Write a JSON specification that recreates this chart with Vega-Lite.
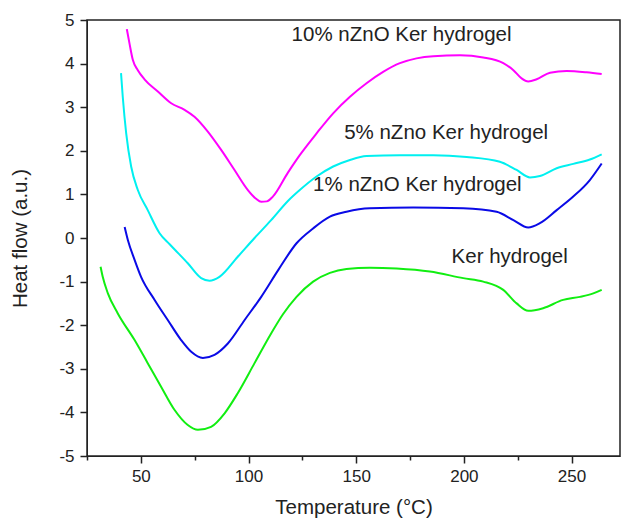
{
  "$schema": "https://vega.github.io/schema/vega-lite/v6.json",
  "width": 533,
  "height": 436,
  "autosize": "none",
  "padding": {"left": 87, "top": 20, "right": 3, "bottom": 64},
  "config": {
    "view": {"stroke": "#222", "strokeWidth": 1.5},
    "font": "Liberation Sans",
    "style": {"guide-label": {"fontSize": 17, "fill": "#222", "font": "Liberation Sans"}, "guide-title": {"fontSize": 20.5, "fill": "#222", "font": "Liberation Sans", "fontWeight": "normal"}},
    "axis": {"grid": false, "domainColor": "#222", "tickColor": "#222", "tickWidth": 1.5}
  },
  "datasets": {
    "curves": [
      {"s": "10%", "T": 43.5, "hf": 4.79}, {"s": "10%", "T": 44.7, "hf": 4.47}, {"s": "10%", "T": 46.3, "hf": 4.08}, {"s": "10%", "T": 48.6, "hf": 3.85}, {"s": "10%", "T": 51.7, "hf": 3.64}, {"s": "10%", "T": 57.9, "hf": 3.36}, {"s": "10%", "T": 64.1, "hf": 3.09}, {"s": "10%", "T": 70.3, "hf": 2.94}, {"s": "10%", "T": 74.9, "hf": 2.78}, {"s": "10%", "T": 81.1, "hf": 2.44}, {"s": "10%", "T": 87.3, "hf": 2.02}, {"s": "10%", "T": 93.5, "hf": 1.56}, {"s": "10%", "T": 99.7, "hf": 1.1}, {"s": "10%", "T": 103.5, "hf": 0.9}, {"s": "10%", "T": 105.9, "hf": 0.83}, {"s": "10%", "T": 108.5, "hf": 0.84}, {"s": "10%", "T": 111.3, "hf": 0.95}, {"s": "10%", "T": 118.3, "hf": 1.5}, {"s": "10%", "T": 123.8, "hf": 1.9}, {"s": "10%", "T": 131.6, "hf": 2.4}, {"s": "10%", "T": 139.3, "hf": 2.86}, {"s": "10%", "T": 147.1, "hf": 3.24}, {"s": "10%", "T": 154.8, "hf": 3.55}, {"s": "10%", "T": 162.5, "hf": 3.81}, {"s": "10%", "T": 170.3, "hf": 4.01}, {"s": "10%", "T": 178.0, "hf": 4.12}, {"s": "10%", "T": 185.8, "hf": 4.17}, {"s": "10%", "T": 198.2, "hf": 4.19}, {"s": "10%", "T": 209.0, "hf": 4.14}, {"s": "10%", "T": 218.3, "hf": 4.01}, {"s": "10%", "T": 223.0, "hf": 3.85}, {"s": "10%", "T": 226.8, "hf": 3.66}, {"s": "10%", "T": 229.9, "hf": 3.59}, {"s": "10%", "T": 233.8, "hf": 3.64}, {"s": "10%", "T": 240.0, "hf": 3.79}, {"s": "10%", "T": 247.7, "hf": 3.83}, {"s": "10%", "T": 257.0, "hf": 3.8}, {"s": "10%", "T": 264.0, "hf": 3.76},
      {"s": "5%", "T": 40.8, "hf": 3.78}, {"s": "5%", "T": 41.6, "hf": 3.24}, {"s": "5%", "T": 43.2, "hf": 2.4}, {"s": "5%", "T": 45.5, "hf": 1.64}, {"s": "5%", "T": 48.6, "hf": 1.1}, {"s": "5%", "T": 53.2, "hf": 0.64}, {"s": "5%", "T": 58.7, "hf": 0.11}, {"s": "5%", "T": 63.5, "hf": -0.15}, {"s": "5%", "T": 71.8, "hf": -0.58}, {"s": "5%", "T": 78.0, "hf": -0.92}, {"s": "5%", "T": 81.9, "hf": -0.98}, {"s": "5%", "T": 86.5, "hf": -0.89}, {"s": "5%", "T": 95.0, "hf": -0.43}, {"s": "5%", "T": 102.8, "hf": 0.0}, {"s": "5%", "T": 110.5, "hf": 0.41}, {"s": "5%", "T": 118.3, "hf": 0.85}, {"s": "5%", "T": 123.8, "hf": 1.1}, {"s": "5%", "T": 131.6, "hf": 1.41}, {"s": "5%", "T": 139.3, "hf": 1.64}, {"s": "5%", "T": 147.1, "hf": 1.79}, {"s": "5%", "T": 154.8, "hf": 1.88}, {"s": "5%", "T": 170.3, "hf": 1.9}, {"s": "5%", "T": 185.8, "hf": 1.9}, {"s": "5%", "T": 201.3, "hf": 1.86}, {"s": "5%", "T": 216.7, "hf": 1.75}, {"s": "5%", "T": 224.5, "hf": 1.56}, {"s": "5%", "T": 230.7, "hf": 1.39}, {"s": "5%", "T": 235.3, "hf": 1.42}, {"s": "5%", "T": 243.1, "hf": 1.6}, {"s": "5%", "T": 250.8, "hf": 1.7}, {"s": "5%", "T": 258.5, "hf": 1.8}, {"s": "5%", "T": 264.0, "hf": 1.92},
      {"s": "1%", "T": 42.5, "hf": 0.25}, {"s": "1%", "T": 44.0, "hf": -0.05}, {"s": "1%", "T": 47.1, "hf": -0.5}, {"s": "1%", "T": 50.1, "hf": -0.89}, {"s": "1%", "T": 56.4, "hf": -1.42}, {"s": "1%", "T": 62.5, "hf": -1.88}, {"s": "1%", "T": 68.7, "hf": -2.34}, {"s": "1%", "T": 73.4, "hf": -2.61}, {"s": "1%", "T": 78.8, "hf": -2.75}, {"s": "1%", "T": 84.2, "hf": -2.68}, {"s": "1%", "T": 90.4, "hf": -2.42}, {"s": "1%", "T": 98.2, "hf": -1.88}, {"s": "1%", "T": 105.9, "hf": -1.35}, {"s": "1%", "T": 114.0, "hf": -0.72}, {"s": "1%", "T": 122.3, "hf": -0.12}, {"s": "1%", "T": 130.0, "hf": 0.22}, {"s": "1%", "T": 137.8, "hf": 0.49}, {"s": "1%", "T": 145.5, "hf": 0.6}, {"s": "1%", "T": 156.3, "hf": 0.68}, {"s": "1%", "T": 176.5, "hf": 0.7}, {"s": "1%", "T": 199.7, "hf": 0.68}, {"s": "1%", "T": 215.2, "hf": 0.6}, {"s": "1%", "T": 223.0, "hf": 0.41}, {"s": "1%", "T": 229.9, "hf": 0.24}, {"s": "1%", "T": 235.3, "hf": 0.34}, {"s": "1%", "T": 243.1, "hf": 0.64}, {"s": "1%", "T": 250.8, "hf": 0.95}, {"s": "1%", "T": 258.5, "hf": 1.33}, {"s": "1%", "T": 264.0, "hf": 1.71},
      {"s": "0%", "T": 31.3, "hf": -0.66}, {"s": "0%", "T": 32.3, "hf": -0.89}, {"s": "0%", "T": 34.7, "hf": -1.27}, {"s": "0%", "T": 39.3, "hf": -1.73}, {"s": "0%", "T": 47.1, "hf": -2.34}, {"s": "0%", "T": 53.2, "hf": -2.87}, {"s": "0%", "T": 59.4, "hf": -3.41}, {"s": "0%", "T": 65.6, "hf": -3.94}, {"s": "0%", "T": 71.8, "hf": -4.29}, {"s": "0%", "T": 76.5, "hf": -4.4}, {"s": "0%", "T": 82.6, "hf": -4.33}, {"s": "0%", "T": 88.9, "hf": -4.02}, {"s": "0%", "T": 95.0, "hf": -3.56}, {"s": "0%", "T": 102.8, "hf": -2.87}, {"s": "0%", "T": 110.5, "hf": -2.19}, {"s": "0%", "T": 116.0, "hf": -1.75}, {"s": "0%", "T": 122.3, "hf": -1.35}, {"s": "0%", "T": 130.0, "hf": -1.0}, {"s": "0%", "T": 137.8, "hf": -0.8}, {"s": "0%", "T": 145.5, "hf": -0.71}, {"s": "0%", "T": 156.3, "hf": -0.68}, {"s": "0%", "T": 168.8, "hf": -0.7}, {"s": "0%", "T": 184.2, "hf": -0.77}, {"s": "0%", "T": 199.7, "hf": -0.92}, {"s": "0%", "T": 209.0, "hf": -1.0}, {"s": "0%", "T": 218.3, "hf": -1.19}, {"s": "0%", "T": 224.5, "hf": -1.5}, {"s": "0%", "T": 229.9, "hf": -1.67}, {"s": "0%", "T": 236.8, "hf": -1.61}, {"s": "0%", "T": 246.1, "hf": -1.42}, {"s": "0%", "T": 253.9, "hf": -1.35}, {"s": "0%", "T": 260.1, "hf": -1.27}, {"s": "0%", "T": 264.0, "hf": -1.19}
    ],
    "labels": [
      {"text": "10% nZnO Ker hydrogel", "T": 120.0, "hf": 4.66},
      {"text": "5% nZno Ker hydrogel", "T": 144.4, "hf": 2.4},
      {"text": "1% nZnO Ker hydrogel", "T": 130.0, "hf": 1.22},
      {"text": "Ker hydrogel", "T": 194.3, "hf": -0.43}
    ]
  },
  "layer": [
    {
      "data": {"name": "curves"},
      "mark": {"type": "line", "strokeWidth": 2, "interpolate": "monotone"},
      "encoding": {
        "x": {"field": "T", "type": "quantitative",
          "scale": {"domain": [25, 272.5], "nice": false, "zero": false},
          "axis": {"values": [25, 50, 75, 100, 125, 150, 175, 200, 225, 250], "labelExpr": "datum.value % 50 === 0 ? toString(datum.value) : ''",
            "tickSize": {"condition": {"test": "datum.value % 50 === 0", "value": 7}, "value": 4},
            "labelPadding": 5, "title": "Temperature (°C)", "titleY": 51, "titleBaseline": "middle"}},
        "y": {"field": "hf", "type": "quantitative",
          "scale": {"domain": [-5, 5], "nice": false, "zero": false},
          "axis": {"values": [-5, -4.5, -4, -3.5, -3, -2.5, -2, -1.5, -1, -0.5, 0, 0.5, 1, 1.5, 2, 2.5, 3, 3.5, 4, 4.5, 5], "labelExpr": "datum.value % 1 === 0 ? toString(datum.value) : ''",
            "tickSize": {"condition": {"test": "datum.value % 1 === 0", "value": 7}, "value": 4},
            "labelPadding": 6, "title": "Heat flow (a.u.)", "titleX": -67, "titleY": 218, "titleAngle": -90, "titleAlign": "center", "titleBaseline": "middle"}},
        "color": {"field": "s", "type": "nominal", "legend": null,
          "scale": {"domain": ["10%", "5%", "1%", "0%"], "range": ["#ff00ff", "#00f0f0", "#0a0ae6", "#11ee11"]}},
        "order": {"field": "T", "type": "quantitative"}
      }
    },
    {
      "data": {"name": "labels"},
      "mark": {"type": "text", "align": "left", "baseline": "middle", "fontSize": 20.5, "font": "Liberation Sans", "color": "#222"},
      "encoding": {
        "x": {"field": "T", "type": "quantitative"},
        "y": {"field": "hf", "type": "quantitative"},
        "text": {"field": "text"}
      }
    }
  ]
}
